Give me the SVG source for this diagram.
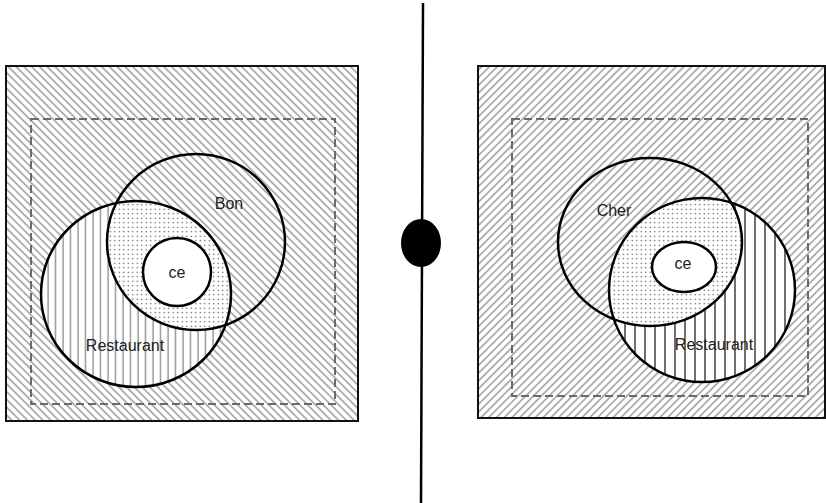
<svg xmlns="http://www.w3.org/2000/svg" width="826" height="503" viewBox="0 0 826 503">
  <style>
    .outer{fill:none;stroke:#111;stroke-width:2}
    .dash{fill:none;stroke:#6a6a6a;stroke-width:2;stroke-dasharray:8 4}
    .circ{fill:none;stroke:#000;stroke-width:2.5}
    .lbl{font-family:"Liberation Sans",Arial,sans-serif;font-size:16px;fill:#222;text-anchor:middle}
  </style>
  <defs>
    <pattern id="hatchL" patternUnits="userSpaceOnUse" width="5.5" height="10" patternTransform="rotate(-45)">
      <rect width="5.5" height="10" fill="#fff"/>
      <line x1="2.75" y1="0" x2="2.75" y2="10" stroke="#777" stroke-width="1.1"/>
    </pattern>
    <pattern id="hatchR" patternUnits="userSpaceOnUse" width="5.5" height="10" patternTransform="rotate(45)">
      <rect width="5.5" height="10" fill="#fff"/>
      <line x1="2.75" y1="0" x2="2.75" y2="10" stroke="#777" stroke-width="1.1"/>
    </pattern>
    <pattern id="vertL" patternUnits="userSpaceOnUse" width="7.5" height="10">
      <rect width="7.5" height="10" fill="#fff"/>
      <line x1="3" y1="0" x2="3" y2="10" stroke="#666" stroke-width="1"/>
    </pattern>
    <pattern id="vertR" patternUnits="userSpaceOnUse" width="10" height="10">
      <rect width="10" height="10" fill="#fff"/>
      <line x1="5" y1="0" x2="5" y2="10" stroke="#222" stroke-width="1.3"/>
    </pattern>
    <pattern id="dots" patternUnits="userSpaceOnUse" width="4.5" height="4.5">
      <rect width="4.5" height="4.5" fill="#fff"/>
      <circle cx="2.25" cy="2.25" r="0.75" fill="#444"/>
    </pattern>
    <clipPath id="clipRestL"><ellipse cx="136" cy="294" rx="95" ry="93"/></clipPath>
    <clipPath id="clipRestR"><ellipse cx="702" cy="290" rx="93" ry="92"/></clipPath>
  </defs>
  <rect width="826" height="503" fill="#fff"/>

  <g id="left-panel">
    <rect x="6" y="66" width="352" height="355" fill="url(#hatchL)"/>
    <ellipse cx="136" cy="294" rx="95" ry="93" fill="url(#vertL)"/>
    <ellipse cx="196" cy="242" rx="89" ry="88" fill="url(#dots)" clip-path="url(#clipRestL)"/>
    <rect class="dash" x="31" y="119" width="304" height="285"/>
    <rect class="outer" x="6" y="66" width="352" height="355"/>
  </g>
  <g id="bon">
    <ellipse class="circ" cx="196" cy="242" rx="89" ry="88"/>
    <text class="lbl" x="229" y="209">Bon</text>
  </g>
  <g id="restaurant-left">
    <ellipse class="circ" cx="136" cy="294" rx="95" ry="93"/>
    <text class="lbl" x="125" y="351">Restaurant</text>
  </g>
  <g id="ce-left">
    <circle cx="177" cy="272" r="34" fill="#fff" stroke="#000" stroke-width="2.5"/>
    <text class="lbl" x="177" y="278">ce</text>
  </g>

  <g id="right-panel">
    <rect x="478" y="66" width="347" height="352" fill="url(#hatchR)"/>
    <ellipse cx="702" cy="290" rx="93" ry="92" fill="url(#vertR)"/>
    <ellipse cx="650" cy="242" rx="92" ry="84" fill="url(#dots)" clip-path="url(#clipRestR)"/>
    <rect class="dash" x="512" y="119" width="296" height="277"/>
    <rect class="outer" x="478" y="66" width="347" height="352"/>
  </g>
  <g id="cher">
    <ellipse class="circ" cx="650" cy="242" rx="92" ry="84"/>
    <text class="lbl" x="614" y="216">Cher</text>
  </g>
  <g id="restaurant-right">
    <ellipse class="circ" cx="702" cy="290" rx="93" ry="92"/>
    <text class="lbl" x="714" y="350">Restaurant</text>
  </g>
  <g id="ce-right">
    <ellipse cx="684" cy="267" rx="32" ry="25" fill="#fff" stroke="#000" stroke-width="2.5"/>
    <text class="lbl" x="683" y="269">ce</text>
  </g>

  <g id="connectors">
    <line x1="423" y1="3" x2="421" y2="503" stroke="#000" stroke-width="2.5"/>
  </g>
  <g id="separator-dot">
    <ellipse cx="421" cy="243" rx="20" ry="24" fill="#000"/>
  </g>
</svg>
